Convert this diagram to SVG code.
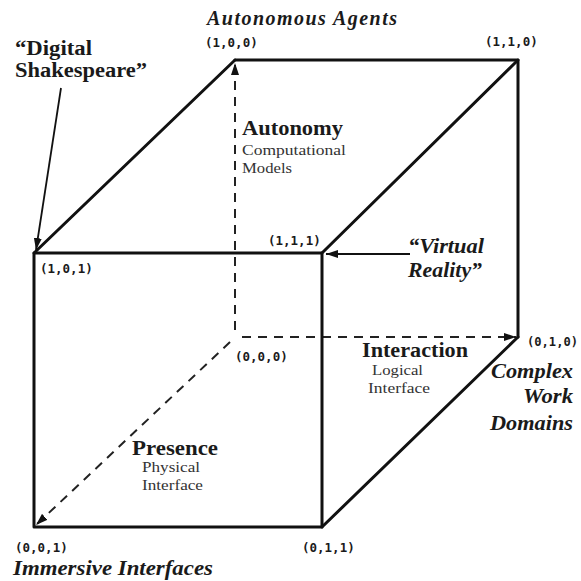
<svg xmlns="http://www.w3.org/2000/svg" width="581" height="581" viewBox="0 0 581 581">
<defs>
<style>
.edge{stroke:#111;stroke-width:3;fill:none;stroke-linecap:round;stroke-linejoin:round}
.axis{stroke:#222;stroke-width:2;fill:none;stroke-dasharray:9 7}
.ann{stroke:#111;stroke-width:1.8;fill:none}
.coord{font-family:"DejaVu Sans Mono","Liberation Mono",monospace;font-weight:bold;font-size:12.5px;fill:#1a1a1a}
.bi{font-family:"Liberation Serif",serif;font-weight:bold;font-style:italic;font-size:20px;fill:#1a1a1a}
.b{font-family:"Liberation Serif",serif;font-weight:bold;font-size:20px;fill:#1a1a1a}
.r{font-family:"Liberation Serif",serif;font-size:15px;fill:#333}
</style>
<marker id="ah" viewBox="0 0 12 8" refX="12" refY="4" markerWidth="12" markerHeight="8" markerUnits="userSpaceOnUse" orient="auto">
<path d="M0,0 L12,4 L0,8 Z" fill="#111"/>
</marker>
</defs>
<rect width="581" height="581" fill="#fff"/>
<g id="connectors">
<g id="dashed-axes">
<line class="axis" x1="235" y1="330" x2="235" y2="63" marker-end="url(#ah)"/>
<line class="axis" x1="242" y1="337" x2="516" y2="337" marker-end="url(#ah)"/>
<line class="axis" x1="230" y1="342" x2="36" y2="525" marker-end="url(#ah)"/>
</g>
<g id="cube-edges">
<polyline class="edge" points="34,527 34,253 322,253 322,527 34,527"/>
<polyline class="edge" points="235,60 518,60 518,337"/>
<line class="edge" x1="34" y1="253" x2="235" y2="60"/>
<line class="edge" x1="322" y1="253" x2="518" y2="60"/>
<line class="edge" x1="322" y1="527" x2="518" y2="337"/>
</g>
<g id="annotation-arrows">
<line class="ann" x1="61" y1="88" x2="36" y2="250" marker-end="url(#ah)"/>
<line class="ann" x1="410" y1="254" x2="326" y2="254" marker-end="url(#ah)"/>
</g>
</g>
<g id="v100"><text class="coord" x="205" y="47">(1,0,0)</text></g>
<g id="v110"><text class="coord" x="485" y="46">(1,1,0)</text></g>
<g id="v101"><text class="coord" x="40" y="273">(1,0,1)</text></g>
<g id="v111"><text class="coord" x="268" y="245">(1,1,1)</text></g>
<g id="v000"><text class="coord" x="235" y="361">(0,0,0)</text></g>
<g id="v010"><text class="coord" x="527" y="346" textLength="51" lengthAdjust="spacingAndGlyphs">(0,1,0)</text></g>
<g id="v001"><text class="coord" x="15" y="552">(0,0,1)</text></g>
<g id="v011"><text class="coord" x="302" y="552">(0,1,1)</text></g>
<g id="autonomous-agents"><text class="bi" x="207" y="25" textLength="190" lengthAdjust="spacing">Autonomous Agents</text></g>
<g id="digital-shakespeare">
<text class="b" x="15" y="55" font-size="21" textLength="77" lengthAdjust="spacingAndGlyphs">“Digital</text>
<text class="b" x="15" y="77" font-size="21" textLength="132" lengthAdjust="spacingAndGlyphs">Shakespeare”</text>
</g>
<g id="autonomy">
<text class="b" x="242" y="135" textLength="101" lengthAdjust="spacingAndGlyphs">Autonomy</text>
<text class="r" x="242" y="155" textLength="104" lengthAdjust="spacingAndGlyphs">Computational</text>
<text class="r" x="242" y="173" textLength="50" lengthAdjust="spacingAndGlyphs">Models</text>
</g>
<g id="virtual-reality">
<text class="bi" x="408" y="253" textLength="76" lengthAdjust="spacingAndGlyphs">“Virtual</text>
<text class="bi" x="408" y="277" textLength="74" lengthAdjust="spacingAndGlyphs">Reality”</text>
</g>
<g id="interaction">
<text class="b" x="362" y="357" textLength="106" lengthAdjust="spacingAndGlyphs">Interaction</text>
<text class="r" x="372" y="375" textLength="51" lengthAdjust="spacingAndGlyphs">Logical</text>
<text class="r" x="368" y="393" textLength="62" lengthAdjust="spacingAndGlyphs">Interface</text>
</g>
<g id="complex-work-domains">
<text class="bi" x="573" y="378" text-anchor="end" font-size="21" textLength="82" lengthAdjust="spacingAndGlyphs">Complex</text>
<text class="bi" x="573" y="403" text-anchor="end" font-size="21" textLength="50" lengthAdjust="spacingAndGlyphs">Work</text>
<text class="bi" x="573" y="430" text-anchor="end" font-size="21" textLength="83" lengthAdjust="spacingAndGlyphs">Domains</text>
</g>
<g id="presence">
<text class="b" x="132" y="455" textLength="86" lengthAdjust="spacingAndGlyphs">Presence</text>
<text class="r" x="142" y="472" textLength="58" lengthAdjust="spacingAndGlyphs">Physical</text>
<text class="r" x="142" y="490" textLength="61" lengthAdjust="spacingAndGlyphs">Interface</text>
</g>
<g id="immersive-interfaces"><text class="bi" x="13" y="575" textLength="200" lengthAdjust="spacingAndGlyphs">Immersive Interfaces</text></g>
</svg>
